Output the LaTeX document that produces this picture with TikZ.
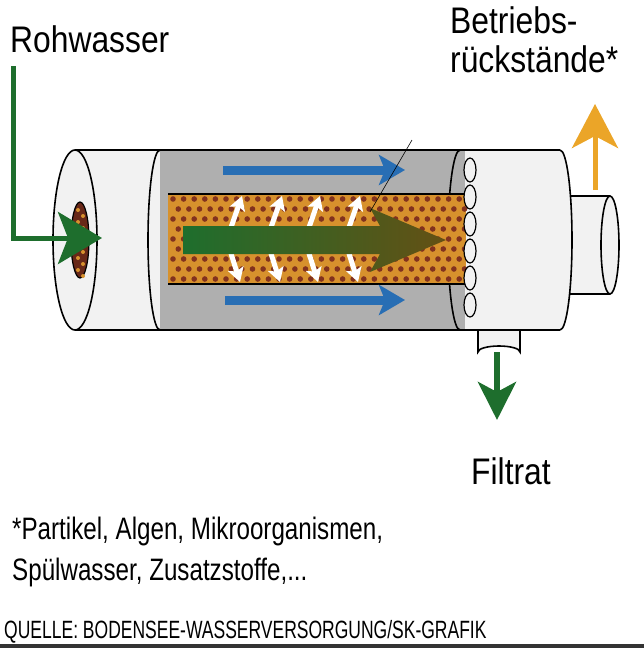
\documentclass[tikz,border=0pt]{standalone}
\usepackage{fontspec}
\setmainfont{Liberation Sans}
\newfontfamily\cond[FakeStretch=0.78]{Liberation Sans}
\newfontfamily\condl[FakeStretch=0.86]{Liberation Sans}
\newfontfamily\conds[FakeStretch=0.7]{Liberation Sans}
\usetikzlibrary{arrows.meta}
\definecolor{gruen}{RGB}{30,110,45}
\definecolor{olive}{RGB}{100,80,20}
\definecolor{blau}{RGB}{40,110,180}
\definecolor{gelb}{RGB}{235,165,40}
\definecolor{kern}{RGB}{215,145,45}
\definecolor{punkt}{RGB}{130,50,30}
\definecolor{grau}{RGB}{175,175,175}
\definecolor{weiss}{RGB}{242,242,242}
\tikzset{
 lbl/.style={font=\condl\fontsize{37}{40}\selectfont, anchor=base west, inner sep=0},
 fnt/.style={font=\cond\fontsize{31}{34}\selectfont, anchor=base west, inner sep=0},
 src/.style={font=\conds\fontsize{25}{28}\selectfont, anchor=base west, inner sep=0},
 body/.style={draw=black, line width=1.6pt},
 bluearr/.style={draw=blau, line width=9pt, -{Stealth[length=26pt,width=30pt,inset=6pt]}},
 whitearr/.style={draw=white, line width=5pt, -{Stealth[length=14pt,width=16pt,inset=3pt]}},
}
\begin{document}
\begin{tikzpicture}[x=1pt,y=-1pt]
\useasboundingbox (0,0) rectangle (644,651);
% right outlet pipe
\fill[weiss] (560,196) rectangle (610,294);
\draw[body] (560,196) -- (610,196) (560,294) -- (610,294);
\draw[body, fill=weiss] (610,245) ellipse (9 and 49);
% bottom pipe
\draw[body, fill=weiss] (478,318) -- (478,352) arc[start angle=180,end angle=360,x radius=21,y radius=6] -- (520,318);
% main body
\fill[weiss] (75,150) rectangle (560,330);
\fill[grau] (160,150) rectangle (465,330);
\fill[weiss] (560,150) arc[start angle=270,end angle=450,x radius=12,y radius=90] -- cycle;
\draw[body] (75,150) -- (560,150) (75,330) -- (560,330);
\draw[body] (160,150) arc[start angle=270,end angle=90,x radius=12,y radius=90];
\draw[body] (460,150) arc[start angle=270,end angle=90,x radius=12,y radius=90];
\draw[body] (560,150) arc[start angle=270,end angle=450,x radius=12,y radius=90];
% orange core
\fill[kern] (168,194) rectangle (466,284);
\draw[body] (168,194) -- (466,194) (168,284) -- (466,284);
\foreach \i in {0,...,27} \foreach \j in {0,...,8}
 \fill[punkt] ({173+\i*10.6+mod(\j,2)*5.3},{199+\j*10}) circle (2.8);
% header holes
\foreach \y in {170,197,224,251,278,305}
 \draw[line width=1.2pt, fill=weiss] (470,\y) ellipse (6 and 12);
% left face
\draw[body, fill=weiss] (75,240) ellipse (22 and 90);
\draw[line width=1.2pt, fill=punkt!80!black] (80,240) ellipse (9 and 38);
\foreach \y in {210,222,234,246,258,270} \fill[kern] (78,\y) circle (2) (83,{\y+6}) circle (2);
% blue arrows
\draw[bluearr] (223,170) -- (405,170);
\draw[bluearr] (225,300) -- (405,300);
% white arrows
\foreach \x in {228,268,306,346}{
 \draw[whitearr] (\x,236) -- ({\x+14},196);
 \draw[whitearr] (\x,244) -- ({\x+12},282);
}
% central arrow
\shade[left color=gruen, right color=olive] (183,226) -- (380,226) -- (370,208) -- (446,240) -- (370,272) -- (380,254) -- (183,254) -- cycle;
% thin leader
\draw[line width=0.6pt] (412,140) -- (370,212);
% Rohwasser arrow
\node[lbl] (roh) at (10,52) {Rohwasser};
\coordinate (r1) at (13,66);
\coordinate (r2) at (13,238);
\coordinate (r3) at (102,238);
\draw[gruen, line width=5pt, -{Stealth[length=44pt,width=52pt,inset=10pt]}] (r1) -- (r2) -- (r3);
% Betriebsrueckstaende
\node[lbl] (betr) at (450,33) {Betriebs-};
\node[lbl] (rueck) at (450,72) {rückstände*};
\coordinate (o1) at (595,190);
\coordinate (o2) at (595,104);
\draw[gelb, line width=5pt, -{Stealth[length=44pt,width=46pt,inset=12pt]}] (o1) -- (o2);
% Filtrat
\coordinate (f1) at (497,352);
\coordinate (f2) at (497,420);
\draw[gruen, line width=6pt, -{Stealth[length=38pt,width=38pt,inset=10pt]}] (f1) -- (f2);
\node[lbl] (filt) at (471,484) {Filtrat};
% footnote
\node[fnt] (fn1) at (12,539) {*Partikel, Algen, Mikroorganismen,};
\node[fnt] (fn2) at (12,580) {Spülwasser, Zusatzstoffe,...};
\node[src] (q) at (4,638) {QUELLE: BODENSEE-WASSERVERSORGUNG/SK-GRAFIK};
\fill[black!80] (0,644) rectangle (644,648);
\end{tikzpicture}
\end{document}
